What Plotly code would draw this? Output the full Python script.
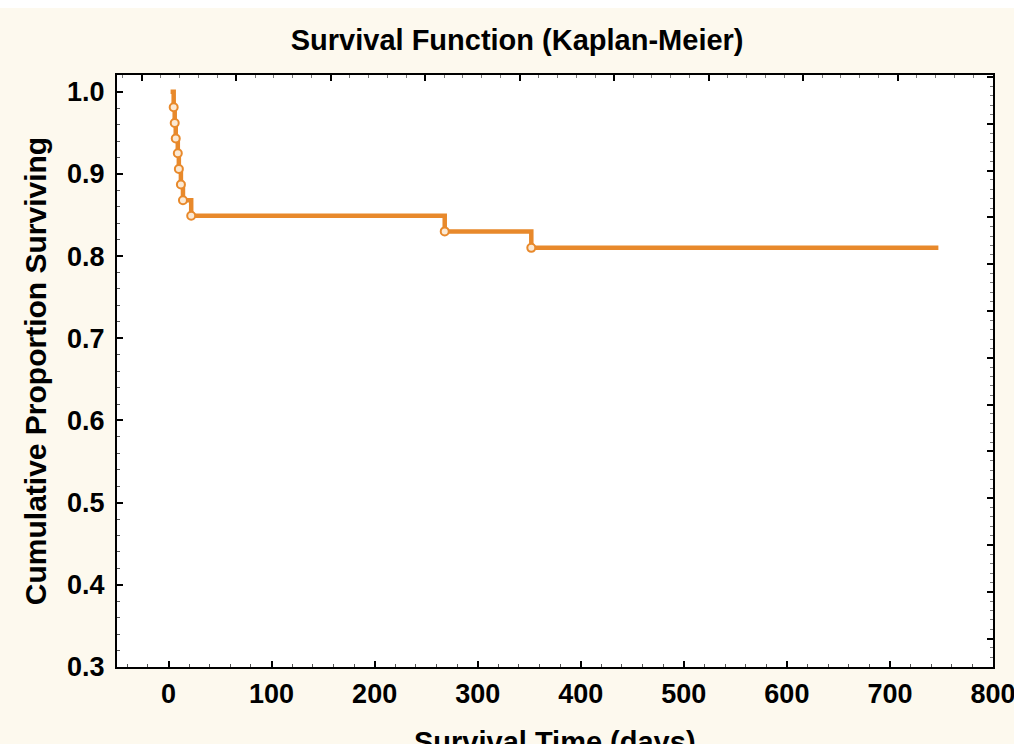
import plotly.graph_objects as go

# Data (Kaplan-Meier step curve)
step_times = [2, 5, 6, 7, 9, 10, 12, 14, 22, 268, 352, 747]
step_surv = [1.0, 0.981, 0.962, 0.943, 0.925, 0.906, 0.887, 0.868, 0.849, 0.830, 0.810, 0.810]
event_times = [5, 6, 7, 9, 10, 12, 14, 22, 268, 352]
event_surv = [0.981, 0.962, 0.943, 0.925, 0.906, 0.887, 0.868, 0.849, 0.830, 0.810]

x_ticks = [0, 100, 200, 300, 400, 500, 600, 700, 800]
y_ticks = [0.3, 0.4, 0.5, 0.6, 0.7, 0.8, 0.9, 1.0]

ORANGE = "#E8892B"
CREAM = "#FDF9EE"
FONT = "Liberation Sans, Arial, sans-serif"

fig = go.Figure()
fig.add_trace(go.Scatter(
    x=step_times, y=step_surv, mode="lines", line=dict(color=ORANGE, width=4.5, shape="hv"),
    showlegend=False, hoverinfo="skip"))
fig.add_trace(go.Scatter(
    x=event_times, y=event_surv, mode="markers",
    marker=dict(symbol="circle", size=8, color="#FBE9D4", line=dict(width=2, color=ORANGE)),
    showlegend=False))
# invisible trace to carry the secondary (frame) axes
fig.add_trace(go.Scatter(x=[None], y=[None], xaxis="x2", yaxis="y2", showlegend=False))

tickfont = dict(family=FONT, size=27, color="black", weight="bold")
fig.update_layout(
    width=1014, height=744,
    margin=dict(l=117, r=21, t=75, b=77, autoexpand=False),
    paper_bgcolor=CREAM, plot_bgcolor="white",
    title=dict(text="Survival Function (Kaplan-Meier)", x=0.51, xanchor="center", y=0.947, yanchor="middle",
               font=dict(family=FONT, size=29, color="black", weight="bold")),
    xaxis=dict(range=[-50, 800], tickvals=x_ticks, ticktext=[str(v) for v in x_ticks],
               showgrid=False, zeroline=False, showline=True, linecolor="black", linewidth=2,
               ticks="inside", ticklen=6, tickwidth=2, tickcolor="black", automargin=False,
               minor=dict(dtick=20, ticks="inside", ticklen=3, tickcolor="#555", tickwidth=1),
               tickfont=tickfont, ticklabelstandoff=2, ticklabeloverflow="allow"),
    yaxis=dict(range=[0.3, 1.0203], tickvals=y_ticks, ticktext=[f"{v:.1f}" for v in y_ticks],
               showgrid=False, zeroline=False, showline=True, linecolor="black", linewidth=2,
               ticks="inside", ticklen=6, tickwidth=2, tickcolor="black", automargin=False,
               minor=dict(dtick=0.02, ticks="inside", ticklen=3, tickcolor="#555", tickwidth=1),
               tickfont=tickfont, ticklabelstandoff=5, ticklabeloverflow="allow",
               title=dict(text="Cumulative Proportion Surviving", standoff=12,
                          font=dict(family=FONT, size=30, color="black", weight="bold"))),
    xaxis2=dict(overlaying="x", side="top", anchor="y2", range=[-0.261, 9.009], dtick=1,
                showticklabels=False, showgrid=False, zeroline=False, showline=True, automargin=False,
                linecolor="black", linewidth=2, ticks="inside", ticklen=6, tickwidth=2, tickcolor="black",
                minor=dict(dtick=0.2, ticks="inside", ticklen=3, tickcolor="#777", tickwidth=1)),
    yaxis2=dict(overlaying="y", side="right", anchor="x2", range=[0.393, 13.043], dtick=1,
                showticklabels=False, showgrid=False, zeroline=False, showline=True, automargin=False,
                linecolor="black", linewidth=2, ticks="inside", ticklen=6, tickwidth=2, tickcolor="black",
                minor=dict(dtick=0.2, ticks="inside", ticklen=3, tickcolor="#777", tickwidth=1)),
    annotations=[dict(text="Survival Time (days)", xref="paper", yref="paper", x=0.5, y=-0.097,
                      xanchor="center", yanchor="top", showarrow=False,
                      font=dict(family=FONT, size=29, color="black", weight="bold"))],
    shapes=[dict(type="rect", xref="paper", yref="paper", x0=-0.2, x1=1.2, y0=1.1132, y1=1.2,
                 fillcolor="white", line=dict(width=0), layer="below")],
)

fig.write_html("out.html")
